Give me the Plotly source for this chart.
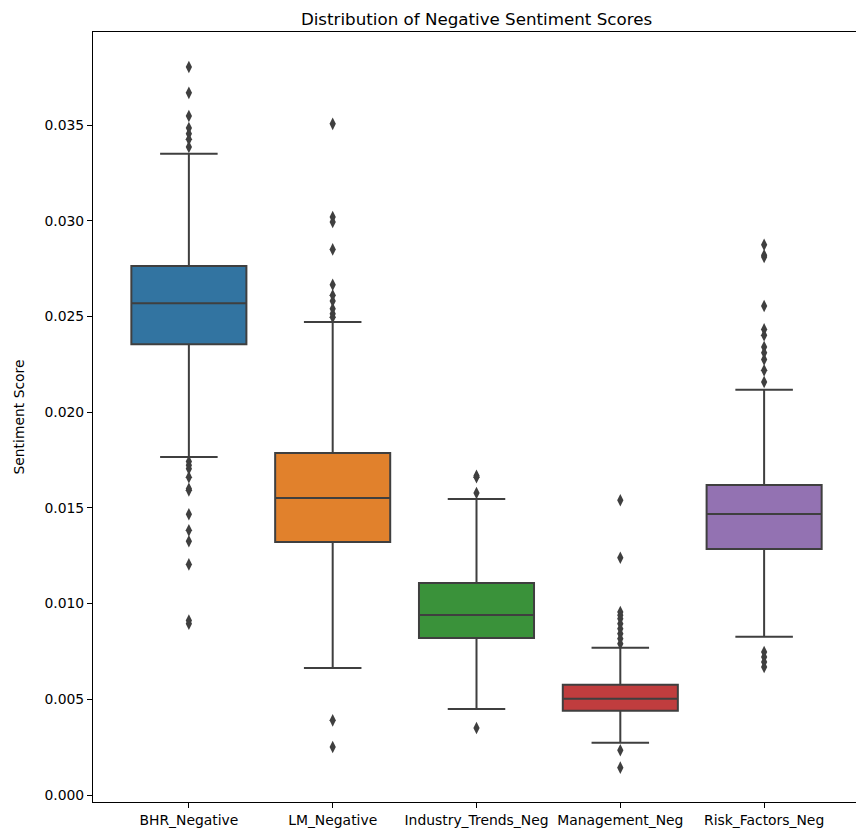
import plotly.graph_objects as go

categories = ["BHR_Negative", "LM_Negative", "Industry_Trends_Neg", "Management_Neg", "Risk_Factors_Neg"]
q1_vals = [0.02356, 0.01322, 0.00820, 0.00440, 0.01285]
median_vals = [0.02570, 0.01552, 0.00940, 0.00503, 0.01468]
q3_vals = [0.02764, 0.01787, 0.01108, 0.00576, 0.01620]
lower_fence = [0.01766, 0.00664, 0.00449, 0.00273, 0.00827]
upper_fence = [0.03351, 0.02471, 0.01547, 0.00770, 0.02118]

outliers_bhr = [0.03804, 0.03669, 0.03548, 0.03485, 0.03455, 0.03426, 0.03386,
                0.01743, 0.01723, 0.01705, 0.01661, 0.01600, 0.01592, 0.01467,
                0.01383, 0.01326, 0.01205, 0.00912, 0.00895]
outliers_lm = [0.03507, 0.03020, 0.02994, 0.02851, 0.02666, 0.02611, 0.02581,
               0.02541, 0.02515, 0.02497, 0.00390, 0.00251]
outliers_ind = [0.01668, 0.01661, 0.01578, 0.00350]
outliers_mgmt = [0.01540, 0.01240, 0.00956, 0.00939, 0.00921, 0.00895, 0.00869,
                 0.00843, 0.00817, 0.00790, 0.00234, 0.00143]
outliers_risk = [0.02875, 0.02820, 0.02811, 0.02555, 0.02433, 0.02402, 0.02341,
                 0.02311, 0.02276, 0.02219, 0.02158, 0.00747, 0.00721, 0.00695, 0.00669]
outliers = [outliers_bhr, outliers_lm, outliers_ind, outliers_mgmt, outliers_risk]

colors = ["#3274a1", "#e1812c", "#3a923a", "#c03d3e", "#9372b2"]
line_gray = "#3f3f3f"

fig = go.Figure()
for i, cat in enumerate(categories):
    fig.add_trace(go.Box(
        x=[cat], q1=[q1_vals[i]], median=[median_vals[i]], q3=[q3_vals[i]],
        lowerfence=[lower_fence[i]], upperfence=[upper_fence[i]],
        fillcolor=colors[i], line=dict(color=line_gray, width=2),
        width=0.8, boxpoints=False, whiskerwidth=0.5,
        showlegend=False, hoverinfo="skip",
    ))
for i, cat in enumerate(categories):
    fig.add_trace(go.Scatter(
        x=[cat] * len(outliers[i]), y=outliers[i], mode="markers",
        marker=dict(symbol="diamond-tall", size=9, color=line_gray,
                    line=dict(width=0)),
        showlegend=False, hoverinfo="skip",
    ))

fig.update_layout(
    width=864, height=834,
    paper_bgcolor="white", plot_bgcolor="white",
    margin=dict(l=79, r=11, t=24, b=40),
    boxmode="overlay",
    font=dict(family="DejaVu Sans", size=13.9, color="black"),
    title=dict(text="Distribution of Negative Sentiment Scores", x=0.5,
               xref="paper", xanchor="center", y=1 - 11 / 834, yanchor="middle",
               font=dict(size=16.7, color="black")),
)
fig.update_xaxes(
    type="category", categoryorder="array", categoryarray=categories,
    showline=True, linecolor="black", linewidth=1, mirror=True,
    ticks="outside", ticklen=5, tickcolor="black", showgrid=False,
    tickfont=dict(size=13.9),
)
fig.update_yaxes(
    range=[-0.000366, 0.03987], tickvals=[0, 0.005, 0.01, 0.015, 0.02, 0.025, 0.03, 0.035],
    tickformat=".3f",
    showline=True, linecolor="black", linewidth=1, mirror=True,
    ticks="outside", ticklen=5, tickcolor="black", showgrid=False, zeroline=False,
    title=dict(text="Sentiment Score", font=dict(size=13.9), standoff=16),
    tickfont=dict(size=13.9),
)

fig.write_html("out.html")
